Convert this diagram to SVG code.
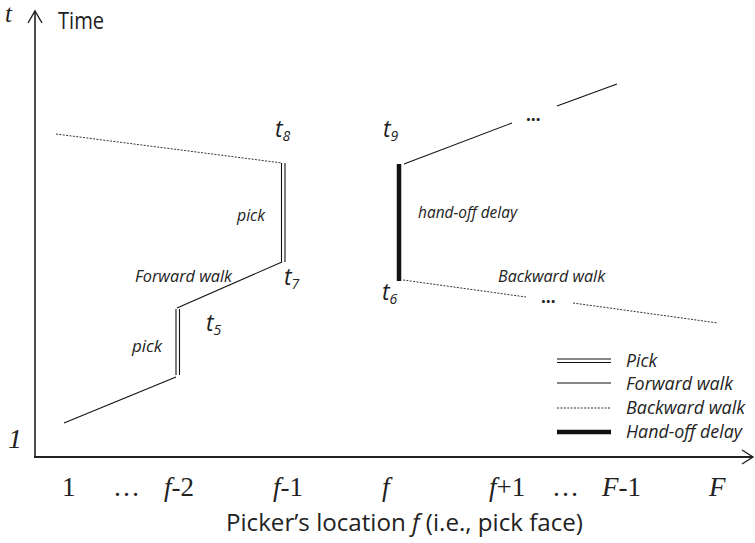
<svg xmlns="http://www.w3.org/2000/svg" width="755" height="543" viewBox="0 0 755 543">
<style>
.ax{stroke:#222;fill:none}
.fw{stroke:#111;stroke-width:1.1;fill:none}
.bw{stroke:#333;stroke-width:1;stroke-dasharray:2,1.4;fill:none}
.pk{stroke:#111;stroke-width:1.1;fill:none}
.hd{stroke:#111;stroke-width:4.5;fill:none}
.sans{font-family:"Open Sans","Liberation Sans",sans-serif;fill:#222}
.it{font-style:italic}
.serif{font-family:"Liberation Serif","DejaVu Serif",serif;fill:#222;font-size:27px}
</style>
<rect width="755" height="543" fill="#fff"/>
<g id="axes">
<line class="ax" x1="35" y1="11" x2="35" y2="457" stroke-width="1.6"/>
<polyline class="ax" points="28,23 35,11 42,23" stroke-width="1.4"/>
<line class="ax" x1="34" y1="457" x2="753" y2="457" stroke-width="2"/>
<polyline class="ax" points="742,450 753,457 742,464" stroke-width="1.4"/>
</g>
<g id="connectors">
<line class="fw" x1="64" y1="423" x2="176" y2="377"/>
<line class="pk" x1="176" y1="309" x2="176" y2="375"/>
<line class="pk" x1="179.5" y1="309" x2="179.5" y2="375"/>
<line class="fw" x1="177" y1="308" x2="282" y2="262"/>
<line class="pk" x1="281.5" y1="163" x2="281.5" y2="262"/>
<line class="pk" x1="285" y1="163" x2="285" y2="262"/>
<line class="bw" x1="56" y1="134" x2="282" y2="163"/>
<line class="hd" x1="399" y1="164" x2="399" y2="281"/>
<line class="fw" x1="404" y1="164" x2="512" y2="123"/>
<line class="fw" x1="557" y1="106" x2="617" y2="84"/>
<line class="bw" x1="403" y1="280" x2="526" y2="297"/>
<line class="bw" x1="573" y1="303" x2="718" y2="323"/>
</g>
<g id="labels" class="sans it">
<text x="58" y="29" font-size="24" font-style="normal" textLength="46" lengthAdjust="spacingAndGlyphs">Time</text>
<text x="275" y="137" font-size="23">t<tspan font-size="14" dy="4">8</tspan></text>
<text x="284" y="285" font-size="23">t<tspan font-size="14" dy="4">7</tspan></text>
<text x="206" y="331" font-size="23">t<tspan font-size="14" dy="4">5</tspan></text>
<text x="383" y="137" font-size="23">t<tspan font-size="14" dy="4">9</tspan></text>
<text x="382" y="300" font-size="23">t<tspan font-size="14" dy="4">6</tspan></text>
<text x="237" y="221" font-size="16" textLength="28" lengthAdjust="spacingAndGlyphs">pick</text>
<text x="132" y="352" font-size="16" textLength="30" lengthAdjust="spacingAndGlyphs">pick</text>
<text x="135" y="282" font-size="16" textLength="97" lengthAdjust="spacingAndGlyphs">Forward walk</text>
<text x="418" y="218" font-size="16" textLength="99" lengthAdjust="spacingAndGlyphs">hand-off delay</text>
<text x="498" y="282" font-size="16" textLength="107" lengthAdjust="spacingAndGlyphs">Backward walk</text>
<text x="526" y="121" font-size="17" font-weight="bold" font-style="normal">…</text>
<text x="541" y="303" font-size="17" font-weight="bold" font-style="normal">…</text>
</g>
<g id="legend" class="sans it">
<line class="pk" x1="557" y1="359" x2="611" y2="359"/>
<line class="pk" x1="557" y1="362.5" x2="611" y2="362.5"/>
<text x="626" y="367" font-size="18" textLength="31" lengthAdjust="spacingAndGlyphs">Pick</text>
<line class="fw" x1="557" y1="383" x2="611" y2="383" stroke="#555"/>
<text x="626" y="390" font-size="18" textLength="107" lengthAdjust="spacingAndGlyphs">Forward walk</text>
<line class="bw" x1="557" y1="408" x2="611" y2="408"/>
<text x="626" y="414" font-size="18" textLength="119" lengthAdjust="spacingAndGlyphs">Backward walk</text>
<line class="hd" x1="557" y1="432" x2="611" y2="432" stroke-width="4"/>
<text x="626" y="438" font-size="18" textLength="116" lengthAdjust="spacingAndGlyphs">Hand-off delay</text>
</g>
<g id="axis-labels" class="serif">
<text x="5" y="22" font-size="25" font-style="italic">t</text>
<text x="8" y="448" font-size="28" font-style="italic">1</text>
<text x="62" y="496">1</text>
<text x="113" y="496">…</text>
<text x="164" y="496"><tspan font-style="italic">f</tspan>-2</text>
<text x="273" y="496"><tspan font-style="italic">f</tspan>-1</text>
<text x="382" y="496" font-style="italic">f</text>
<text x="489" y="496"><tspan font-style="italic">f</tspan>+1</text>
<text x="552" y="496">…</text>
<text x="602" y="496"><tspan font-style="italic">F</tspan>-1</text>
<text x="709" y="496" font-style="italic">F</text>
</g>
<text class="sans" x="226" y="531" font-size="23" textLength="357" lengthAdjust="spacingAndGlyphs">Picker’s location <tspan font-style="italic">f</tspan> (i.e., pick face)</text>
</svg>
